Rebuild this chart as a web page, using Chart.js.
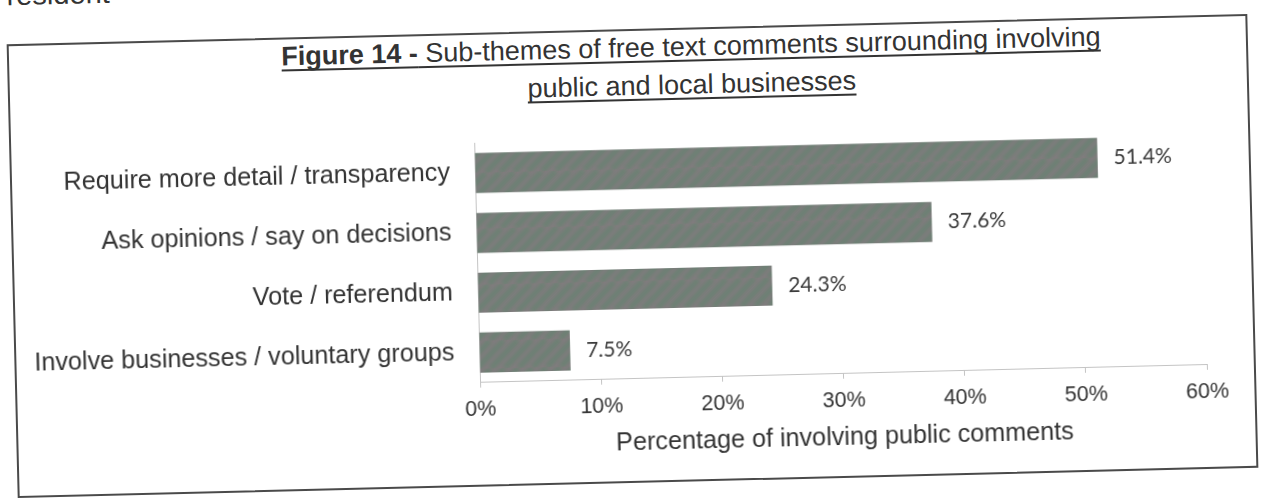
<!DOCTYPE html>
<html>
<head>
<meta charset="utf-8">
<title>Figure 14</title>
<script src="https://cdn.jsdelivr.net/npm/chart.js@4"></script>
<style>
  body { margin: 0; width: 1261px; height: 498px; overflow: hidden; background: #fff; }
  #page {
    position: absolute; left: 0; top: 0; width: 1261px; height: 498px;
    transform-origin: 632.5px 255.75px;
    transform: rotate(-1.4deg);
    font-family: "Liberation Sans", Arial, sans-serif;
    color: #333;
  }
  #lead { position: absolute; left: 13px; top: -34.5px; font-size: 29px; line-height: 29px; }
  #box {
    position: absolute; left: 12px; top: 28.75px; width: 1241px; height: 454px;
    box-sizing: border-box; border: 2px solid #4a4a4a;
  }
  #title {
    position: absolute; left: 96px; top: 30.2px; width: 1200px;
    text-align: center; font-size: 27px; line-height: 37.5px;
    text-decoration: underline; text-underline-offset: 4px;
    text-decoration-skip-ink: none;
  }
  #chartWrap { position: absolute; left: 12px; top: 28.75px; width: 1241px; height: 454px; }
</style>
</head>
<body>
<div id="page">
  <div id="lead">resident</div>
  <div id="box"></div>
  <div id="title"><b>Figure 14 -</b> Sub-themes of free text comments surrounding involving<br>public and local businesses</div>
  <div id="chartWrap"><canvas id="chart" width="1241" height="454"></canvas></div>
</div>
<script>
// Sub-themes and share of comments (%)
const categories = [
  'Require more detail / transparency',
  'Ask opinions / say on decisions',
  'Vote / referendum',
  'Involve businesses / voluntary groups'
];
const shares = [51.4, 37.6, 24.3, 7.5];
const xTicks = [0, 10, 20, 30, 40, 50, 60];

// mottled grey/green fill for the bars
function barPattern() {
  const c = document.createElement('canvas');
  c.width = 28; c.height = 28;
  const g = c.getContext('2d');
  g.fillStyle = 'rgb(130,124,126)';
  g.fillRect(0, 0, 28, 28);
  g.filter = 'blur(2px)';
  g.strokeStyle = 'rgba(78,136,102,0.5)';
  g.lineWidth = 5;
  for (let k = -28; k <= 56; k += 14) {
    g.beginPath();
    g.moveTo(k, 28);
    g.lineTo(k + 28, 0);
    g.stroke();
  }
  return g.createPattern(c, 'repeat');
}

// value labels to the right of each bar
const valueLabels = {
  id: 'valueLabels',
  afterDatasetsDraw(chart) {
    const ctx = chart.ctx;
    const meta = chart.getDatasetMeta(0);
    ctx.save();
    ctx.font = '21px Lato, "Open Sans", sans-serif';
    ctx.fillStyle = '#3a3a3a';
    ctx.textBaseline = 'middle';
    ctx.textAlign = 'left';
    meta.data.forEach((bar, i) => {
      ctx.fillText(shares[i].toFixed(1) + '%', bar.x + 16, bar.y);
    });
    ctx.restore();
  }
};

const ctx = document.getElementById('chart').getContext('2d');
new Chart(ctx, {
  type: 'bar',
  data: {
    labels: categories,
    datasets: [{
      data: shares,
      backgroundColor: barPattern(),
      borderWidth: 0,
      barPercentage: 0.67,
      categoryPercentage: 1
    }]
  },
  options: {
    indexAxis: 'y',
    responsive: false,
    animation: false,
    layout: { padding: { top: 110.4, right: 49, left: 0, bottom: 0 } },
    plugins: {
      legend: { display: false },
      tooltip: { enabled: false }
    },
    scales: {
      x: {
        min: xTicks[0],
        max: xTicks[xTicks.length - 1],
        afterFit: (scale) => { scale.height = 104.2; },
        afterBuildTicks: (scale) => { scale.ticks = xTicks.map(v => ({ value: v })); },
        grid: { drawOnChartArea: false, drawTicks: true, tickLength: 5, color: '#c4c4c4' },
        border: { display: true, color: '#c4c4c4', width: 1 },
        ticks: {
          padding: 9,
          color: '#333',
          font: { family: '"Liberation Sans", Arial, sans-serif', size: 21.5 },
          callback: (v) => v + '%'
        },
        title: {
          display: true,
          text: 'Percentage of involving public comments',
          color: '#333',
          font: { family: '"Liberation Sans", Arial, sans-serif', size: 25.2 },
          padding: { top: 0, bottom: 25 }
        }
      },
      y: {
        afterFit: (scale) => { scale.width = 465; },
        grid: { display: false, drawTicks: false },
        border: { display: true, color: '#c4c4c4', width: 1 },
        ticks: {
          padding: 25,
          color: '#333',
          font: { family: '"Liberation Sans", Arial, sans-serif', size: 25.2 }
        }
      }
    }
  },
  plugins: [valueLabels]
});
</script>
</body>
</html>
